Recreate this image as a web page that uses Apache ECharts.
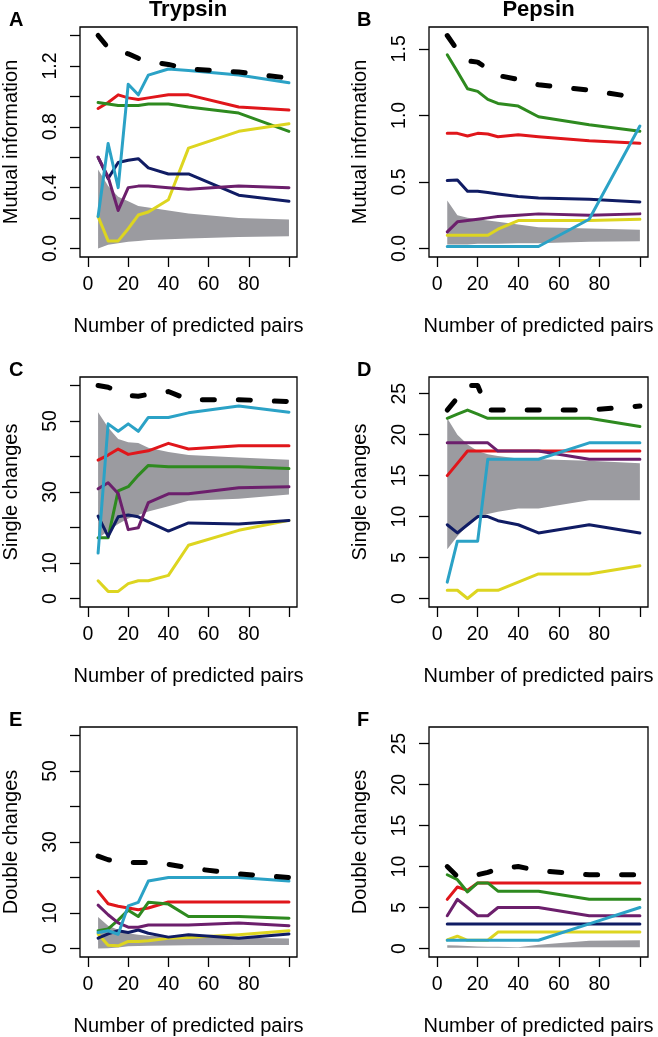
<!DOCTYPE html>
<html><head><meta charset="utf-8">
<script src="https://cdn.jsdelivr.net/npm/echarts@6/dist/echarts.min.js"></script>
<style>html,body{margin:0;padding:0;background:#fff}#c{width:658px;height:1037px}</style>
</head><body><div id="c"></div><script>
// ---------- data ----------
const xPairs = [5, 10, 15, 20, 25, 30, 40, 50, 75, 100];
const xTicks = [0, 20, 40, 60, 80, 100];
const xTickLabels = [0, 20, 40, 60, 80];

// A: Trypsin, mutual information
const aDashed = [1.40, 1.32, 1.30, 1.28, 1.25, 1.23, 1.21, 1.18, 1.16, 1.12];
const aRed    = [0.92, 0.96, 1.01, 0.99, 0.98, 0.99, 1.01, 1.01, 0.93, 0.91];
const aGreen  = [0.96, 0.95, 0.94, 0.94, 0.94, 0.95, 0.95, 0.93, 0.89, 0.77];
const aYellow = [0.21, 0.05, 0.05, 0.13, 0.22, 0.24, 0.32, 0.66, 0.77, 0.82];
const aNavy   = [0.60, 0.46, 0.565, 0.58, 0.59, 0.53, 0.49, 0.49, 0.35, 0.31];
const aPurple = [0.60, 0.47, 0.25, 0.40, 0.41, 0.41, 0.40, 0.39, 0.41, 0.40];
const aCyan   = [0.21, 0.69, 0.40, 1.08, 1.01, 1.14, 1.18, 1.17, 1.14, 1.09];
const aBandLow  = [0.00, 0.025, 0.035, 0.045, 0.05, 0.055, 0.06, 0.065, 0.075, 0.08];
const aBandHigh = [0.52, 0.41, 0.34, 0.31, 0.28, 0.27, 0.25, 0.23, 0.20, 0.19];
const aYTicks = [0, 0.2, 0.4, 0.6, 0.8, 1.0, 1.2, 1.4];
const aYLabels = [0, 0.4, 0.8, 1.2];

// B: Pepsin, mutual information
const bDashed = [1.60, 1.49, 1.41, 1.40, 1.35, 1.30, 1.27, 1.23, 1.19, 1.13];
const bRed    = [0.865, 0.865, 0.845, 0.865, 0.86, 0.84, 0.855, 0.84, 0.81, 0.79];
const bGreen  = [1.455, 1.33, 1.20, 1.18, 1.12, 1.09, 1.07, 0.99, 0.93, 0.88];
const bYellow = [0.10, 0.10, 0.10, 0.10, 0.10, 0.145, 0.21, 0.21, 0.21, 0.22];
const bNavy   = [0.51, 0.515, 0.43, 0.43, 0.42, 0.41, 0.39, 0.38, 0.37, 0.35];
const bPurple = [0.125, 0.20, 0.21, 0.22, 0.23, 0.24, 0.25, 0.26, 0.25, 0.26];
const bCyan   = [0.015, 0.015, 0.015, 0.015, 0.015, 0.015, 0.015, 0.015, 0.22, 0.92];
const bBandLow  = [0.03, 0.03, 0.03, 0.035, 0.035, 0.035, 0.04, 0.04, 0.05, 0.055];
const bBandHigh = [0.36, 0.25, 0.23, 0.22, 0.21, 0.20, 0.18, 0.16, 0.15, 0.14];
const bYTicks = [0, 0.5, 1.0, 1.5];
const bYLabels = [0, 0.5, 1.0, 1.5];

// C: Trypsin, single changes
const cDashed = [60, 59.5, 58.3, 57.2, 57, 57.5, 58.3, 56, 56, 55.5];
const cRed    = [39, 40.4, 42.1, 40.6, 41.1, 41.6, 43.7, 42.1, 43.0, 43.0];
const cGreen  = [17.1, 17.1, 30.3, 31.5, 34.7, 37.5, 37.1, 37.1, 37.1, 36.6];
const cYellow = [5.0, 2.0, 2.0, 4.2, 5.0, 5.0, 6.5, 15.0, 19.2, 22.0];
const cNavy   = [23.2, 17.5, 23.0, 23.5, 23.0, 21.6, 19.0, 21.3, 21.0, 22.0];
const cPurple = [30.9, 32.6, 29.6, 19.4, 19.9, 27.0, 29.5, 29.5, 31.2, 31.5];
const cCyan   = [12.8, 49.2, 47.1, 49.2, 47.1, 51.0, 51.0, 52.3, 54.2, 52.5];
const cBandLow  = [17, 19, 21, 22.5, 23.5, 24.5, 26, 27.5, 28.1, 29.3];
const cBandHigh = [52.5, 48.2, 44.9, 44.0, 43.8, 42.5, 41.3, 40.4, 39.7, 39.1];
const cYTicks = [0, 10, 20, 30, 40, 50, 60];
const cYLabels = [0, 10, 30, 50];

// D: Pepsin, single changes
const dDashed = [23, 24.5, 26, 26, 23, 23, 23, 23, 23, 23.5];
const dRed    = [15, 16.5, 18, 18, 18, 18, 18, 18, 18, 18];
const dGreen  = [22, 22.5, 23, 22.5, 22, 22, 22, 22, 22, 21];
const dYellow = [1, 1, 0, 1, 1, 1, 2, 3, 3, 4];
const dNavy   = [9, 8, 9, 10, 10, 9.5, 9, 8, 9, 8];
const dPurple = [19, 19, 19, 19, 19, 18, 18, 18, 17, 17];
const dCyan   = [2, 7, 7, 7, 17, 17, 17, 17, 19, 19];
const dBandLow  = [6, 7.6, 8.9, 9.75, 10.3, 10.6, 11, 11, 12, 12];
const dBandHigh = [22, 20, 18.8, 18, 17.6, 17.4, 17.1, 17, 16.8, 16.5];
const dYTicks = [0, 5, 10, 15, 20, 25];
const dYLabels = [0, 5, 10, 15, 20, 25];

// E: Trypsin, double changes
const eDashed = [26, 25, 24.6, 24.2, 24.2, 24.2, 23.7, 22.7, 21, 20];
const eRed    = [16.1, 12.6, 11.9, 11.4, 10.9, 11.4, 13.1, 13.1, 13.1, 13.1];
const eGreen  = [5, 5.5, 8, 10.8, 9, 13, 12.5, 9, 9, 8.5];
const eYellow = [4.1, 0.9, 0.75, 2.0, 2.0, 2.2, 2.9, 3.1, 3.9, 5.0];
const eNavy   = [2.9, 4.1, 5.0, 4.5, 5.2, 4.3, 3.2, 3.9, 2.9, 4.1];
const ePurple = [12.2, 9.5, 7.2, 6.0, 6.0, 6.6, 6.6, 6.6, 7.2, 6.4];
const eCyan   = [4.5, 5, 4, 12, 13, 19, 20, 20, 20, 19];
const eBandLow  = [0, 0.1, 0.3, 0.6, 0.7, 0.75, 0.85, 0.9, 0.95, 1.0];
const eBandHigh = [8.9, 6.4, 5.3, 4.3, 3.9, 3.6, 3.4, 3.2, 3.0, 2.8];
const eYTicks = [0, 10, 20, 30, 40, 50, 60];
const eYLabels = [0, 10, 30, 50];

// F: Pepsin, double changes
const fDashed = [10, 8.8, 9, 9, 9.3, 9.7, 10, 9.5, 9, 9];
const fRed    = [6, 7.5, 7.1, 8, 8, 8, 8, 8, 8, 8];
const fGreen  = [9, 8.4, 6.9, 8, 8, 7, 7, 7, 6, 6];
const fYellow = [1.05, 1.5, 1, 1, 1, 2, 2, 2, 2, 2];
const fNavy   = [3, 3, 3, 3, 3, 3, 3, 3, 3, 3];
const fPurple = [4, 6, 5, 4, 4, 5, 5, 5, 4, 4];
const fCyan   = [1, 1, 1, 1, 1, 1, 1, 1, 3, 5];
const fBandLow  = [0.1, 0.1, 0.1, 0.1, 0.1, 0.1, 0.1, 0.12, 0.15, 0.15];
const fBandHigh = [0.4, 0.35, 0.3, 0.25, 0.2, 0.2, 0.15, 0.45, 0.95, 1.0];
const fYTicks = [0, 5, 10, 15, 20, 25];
const fYLabels = [0, 5, 10, 15, 20, 25];

// ---------- panels ----------
const FONT = "'Liberation Sans', Arial, Helvetica, sans-serif";
const COLORS = {red:'#e0161b', green:'#2e8a1f', yellow:'#ddd520', navy:'#101c64', purple:'#6c1f6c', cyan:'#2ba2c6', band:'#9b9ba0', black:'#000'};

const panels = [
  {grid:{left:79, top:27, width:218, height:230}, yr:[0,1.4], yTicks:aYTicks, yLabels:aYLabels, dec:1, yName:'Mutual information',
   d:{dashed:aDashed, red:aRed, green:aGreen, yellow:aYellow, navy:aNavy, purple:aPurple, cyan:aCyan, lo:aBandLow, hi:aBandHigh}},
  {grid:{left:429, top:27, width:219, height:230}, yr:[0,1.6], yTicks:bYTicks, yLabels:bYLabels, dec:1, yName:'Mutual information',
   d:{dashed:bDashed, red:bRed, green:bGreen, yellow:bYellow, navy:bNavy, purple:bPurple, cyan:bCyan, lo:bBandLow, hi:bBandHigh}},
  {grid:{left:79, top:377, width:218, height:230}, yr:[0,60], yTicks:cYTicks, yLabels:cYLabels, dec:0, yName:'Single changes',
   d:{dashed:cDashed, red:cRed, green:cGreen, yellow:cYellow, navy:cNavy, purple:cPurple, cyan:cCyan, lo:cBandLow, hi:cBandHigh}},
  {grid:{left:429, top:377, width:219, height:230}, yr:[0,26], yTicks:dYTicks, yLabels:dYLabels, dec:0, yName:'Single changes',
   d:{dashed:dDashed, red:dRed, green:dGreen, yellow:dYellow, navy:dNavy, purple:dPurple, cyan:dCyan, lo:dBandLow, hi:dBandHigh}},
  {grid:{left:79, top:727, width:218, height:230}, yr:[0,60], yTicks:eYTicks, yLabels:eYLabels, dec:0, yName:'Double changes',
   d:{dashed:eDashed, red:eRed, green:eGreen, yellow:eYellow, navy:eNavy, purple:ePurple, cyan:eCyan, lo:eBandLow, hi:eBandHigh}},
  {grid:{left:429, top:727, width:219, height:230}, yr:[0,26], yTicks:fYTicks, yLabels:fYLabels, dec:0, yName:'Double changes',
   d:{dashed:fDashed, red:fRed, green:fGreen, yellow:fYellow, navy:fNavy, purple:fPurple, cyan:fCyan, lo:fBandLow, hi:fBandHigh}}
];

const ext = (lo, hi) => [lo - 0.04 * (hi - lo), hi + 0.04 * (hi - lo)];
const tickStyle = {show:true, inside:false, length:10, lineStyle:{color:'#000', width:1.3}};

const grids = [], xAxes = [], yAxes = [], series = [];
panels.forEach((p, i) => {
  grids.push(Object.assign({show:true, borderColor:'#000', borderWidth:1.3, backgroundColor:'transparent', containLabel:false}, p.grid));
  const xr = ext(0, 100);
  xAxes.push({type:'value', gridIndex:i, min:xr[0], max:xr[1],
    axisLine:{show:false, onZero:false}, splitLine:{show:false},
    axisTick:Object.assign({customValues:xTicks}, tickStyle),
    axisLabel:{customValues:xTickLabels, fontSize:19.5, color:'#000', margin:18, fontFamily:FONT},
    name:'Number of predicted pairs', nameLocation:'middle', nameGap:59,
    nameTextStyle:{fontSize:20, color:'#000', fontFamily:FONT}});
  const yr = ext(p.yr[0], p.yr[1]);
  yAxes.push({type:'value', gridIndex:i, min:yr[0], max:yr[1],
    axisLine:{show:false, onZero:false}, splitLine:{show:false},
    axisTick:Object.assign({customValues:p.yTicks}, tickStyle),
    axisLabel:{customValues:p.yLabels, rotate:90, fontSize:19.5, color:'#000', margin:19, fontFamily:FONT,
      formatter: v => Number(v).toFixed(p.dec)},
    name:p.yName, nameLocation:'middle', nameGap:59,
    nameTextStyle:{fontSize:20, color:'#000', fontFamily:FONT}});
  const pts = arr => arr.map((v, k) => [xPairs[k], v]);
  const lo = p.d.lo, hi = p.d.hi;
  // grey band between low and high envelope
  series.push({type:'custom', xAxisIndex:i, yAxisIndex:i, silent:true, animation:false,
    data:[[xPairs[0], lo[0]]],
    renderItem: (params, api) => {
      const up = xPairs.map((x, k) => api.coord([x, hi[k]]));
      const dn = xPairs.map((x, k) => api.coord([x, lo[k]])).reverse();
      return {type:'polygon', shape:{points: up.concat(dn)}, style:{fill: COLORS.band, stroke:null}};
    }});
  const common = {type:'line', xAxisIndex:i, yAxisIndex:i, symbol:'none', smooth:false, silent:true, animation:false};
  ['red', 'green', 'yellow', 'navy', 'purple', 'cyan'].forEach(c => {
    series.push(Object.assign({}, common, {name:c, data:pts(p.d[c]),
      lineStyle:{color:COLORS[c], width:3, cap:'round', join:'round'}}));
  });
  series.push(Object.assign({}, common, {name:'dashed', data:pts(p.d.dashed),
    lineStyle:{color:'#000', width:5, type:[12, 24], cap:'round', join:'round'}}));
});

const txt = (x, y, text, size, align) => ({type:'text', x:x, y:y, style:{text:text, fill:'#000',
  font:'bold ' + size + 'px ' + FONT, textAlign:align || 'left', textVerticalAlign:'middle'}});

const chart = echarts.init(document.getElementById('c'), null, {renderer:'canvas'});
chart.setOption({
  animation:false,
  backgroundColor:'#fff',
  grid:grids, xAxis:xAxes, yAxis:yAxes, series:series,
  graphic:[
    txt(188, 10, 'Trypsin', 22, 'center'),
    txt(538.5, 10, 'Pepsin', 22, 'center'),
    txt(9, 20, 'A', 20), txt(357, 20, 'B', 20),
    txt(9, 370, 'C', 20), txt(357, 370, 'D', 20),
    txt(9, 720, 'E', 20), txt(357, 720, 'F', 20)
  ]
});
</script></body></html>
